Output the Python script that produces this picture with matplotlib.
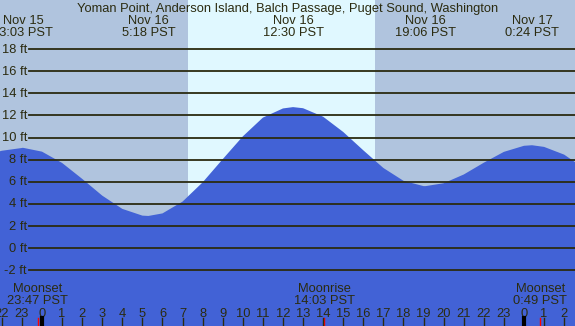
import matplotlib
matplotlib.use("Agg")
import matplotlib.pyplot as plt

plt.rcParams['font.family'] = ['Liberation Sans', 'DejaVu Sans']

title = "Yoman Point, Anderson Island, Balch Passage, Puget Sound, Washington"

# hours counted from Nov 16 00:00 PST, tide height in ft
hours = [-2.1, -2, -1, -0.95, 0, 1, 2, 3, 4, 5, 5.3, 6, 7, 8, 9, 10, 11, 12,
         12.5, 13, 14, 15, 16, 17, 18, 19, 19.1, 20, 21, 22, 23, 24, 24.4,
         25, 26, 26.6]
feet = [8.75, 8.8, 9.05, 9.07, 8.72, 7.7, 6.26, 4.74, 3.54, 2.93, 2.9, 3.13,
        4.2, 5.94, 8.04, 10.1, 11.8, 12.63, 12.75, 12.65, 11.88, 10.5, 8.84,
        7.24, 6.08, 5.6, 5.6, 5.86, 6.65, 7.72, 8.7, 9.25, 9.3, 9.15, 8.45, 7.7]

# high / low tide labels
ext_hours = [-0.95, 5.3, 12.5, 19.1, 24.4]
ext_dates = ["Nov 15", "Nov 16", "Nov 16", "Nov 16", "Nov 17"]
ext_times = ["23:03 PST", "5:18 PST", "12:30 PST", "19:06 PST", "0:24 PST"]

# moon events
moon_hours = [-0.217, 14.05, 24.817]
moon_names = ["Moonset", "Moonrise", "Moonset"]
moon_times = ["23:47 PST", "14:03 PST", "0:49 PST"]

sunrise = 7.27
sunset = 16.58

grid_ft = list(range(-2, 19, 2))
tick_hours = list(range(-2, 27))

night = '#b0c4de'
day = '#e0f8ff'
water = '#4262d6'
ink = '#2b2b10'
fs = 9.3

W, H = 575, 326
fig = plt.figure(figsize=(W / 100, H / 100), dpi=100, facecolor=night)
ax = fig.add_axes([0, 0, 1, 1])
ax.set_facecolor(night)
ax.set_xlim(-2.09, 26.54)
ax.set_ylim((248 - H) / 11.05, 248 / 11.05)
ax.axis('off')

ax.axvspan(sunrise, sunset, color=day, zorder=0, lw=0)
ax.fill_between(hours, feet, -20, color=water, lw=0, zorder=1)

for ft in grid_ft:
    ax.axhline(ft, xmin=29 / W, color=ink, lw=1.3, zorder=2)
    ax.text(27 / W, ft - 0.33, f"{ft} ft", transform=ax.get_yaxis_transform(),
            ha='right', va='baseline', fontsize=fs, color=ink, zorder=3)

xt = ax.get_xaxis_transform()


def fy(py):
    return 1 - py / H


fig.text(0.5, fy(11.7), title, ha='center', va='baseline', fontsize=fs, color=ink)

for h, d, t in zip(ext_hours, ext_dates, ext_times):
    ax.text(h, fy(24.3), d, transform=xt, ha='center', va='baseline',
            fontsize=fs, color=ink)
    ax.text(h, fy(36), t, transform=xt, ha='center', va='baseline',
            fontsize=fs, color=ink)

for h, n, t in zip(moon_hours, moon_names, moon_times):
    ax.text(h, fy(291.7), n, transform=xt, ha='center', va='baseline',
            fontsize=fs, color=ink)
    ax.text(h, fy(304.3), t, transform=xt, ha='center', va='baseline',
            fontsize=fs, color=ink)
    ax.plot([h, h], [0, fy(318)], transform=xt, color='red', lw=1, zorder=3)

for h in tick_hours:
    ax.text(h, fy(316.7), str(h % 24), transform=xt, ha='center', va='baseline',
            fontsize=fs, color=ink)
    if h % 24 == 0:
        ax.plot([h, h], [0, fy(318)], transform=xt, color='black', lw=3, zorder=3)
    else:
        ax.plot([h, h], [0, fy(318)], transform=xt, color=ink, lw=1, zorder=3)

fig.savefig('out.png', dpi=100, facecolor=night)
